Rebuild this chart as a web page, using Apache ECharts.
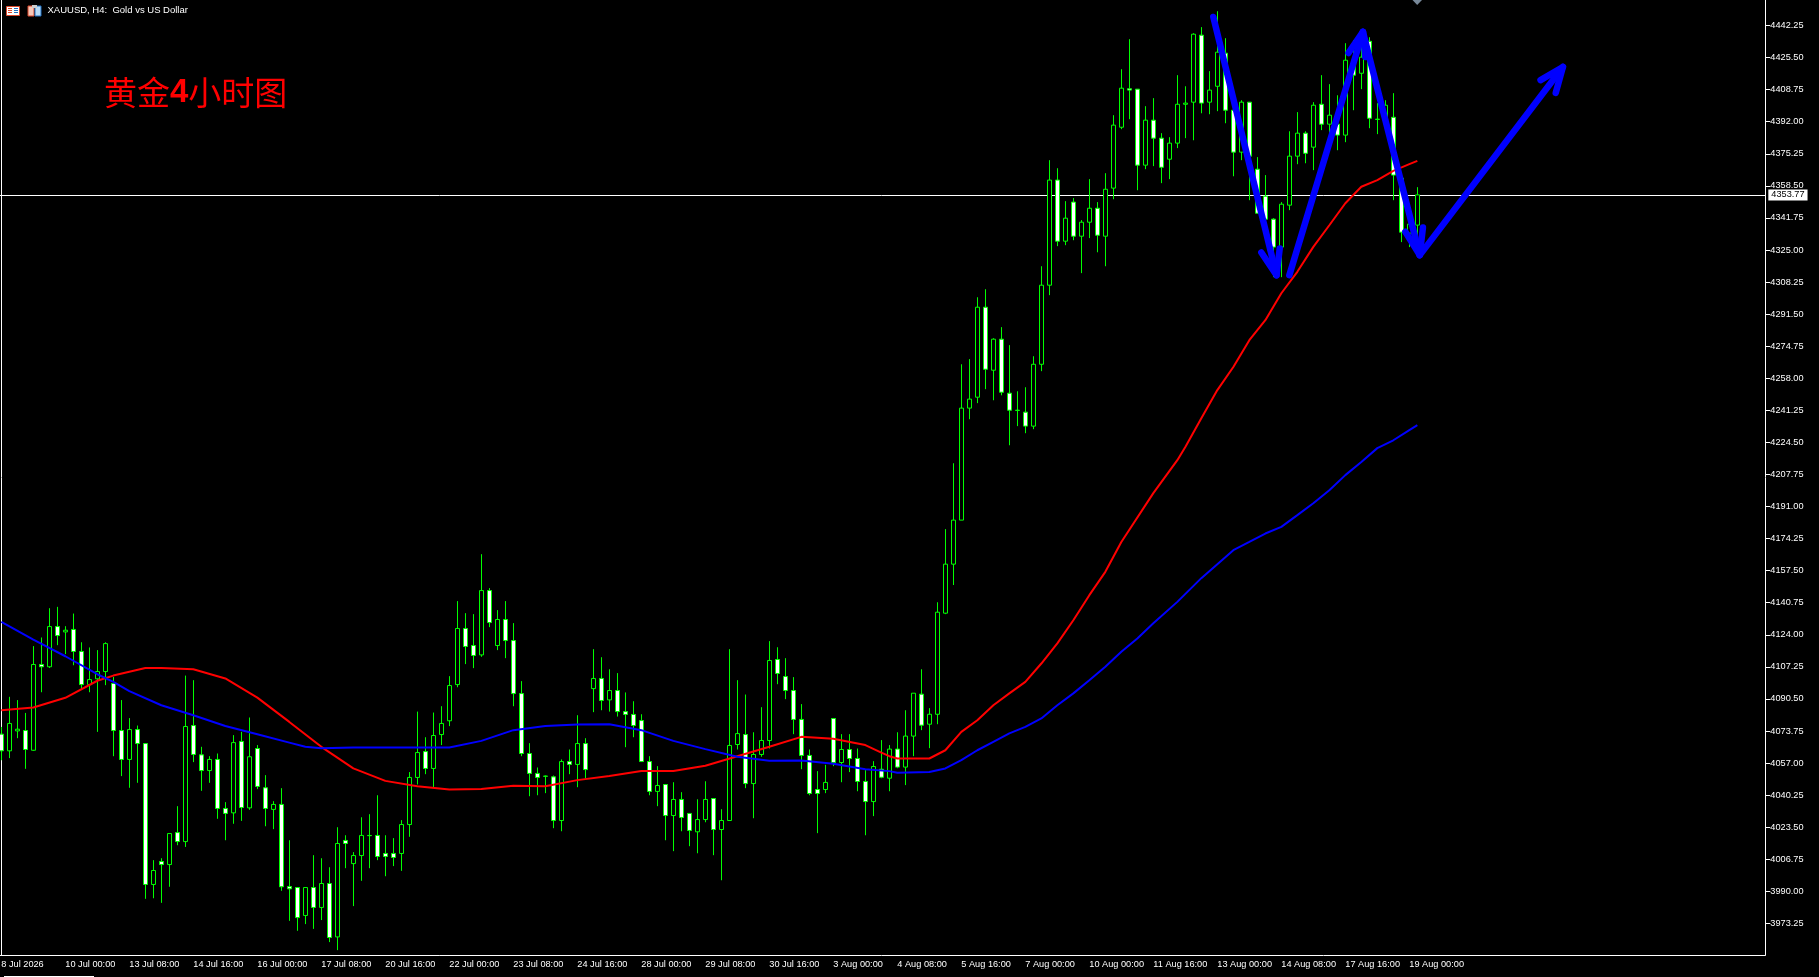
<!DOCTYPE html>
<html><head><meta charset="utf-8">
<style>html,body{margin:0;padding:0;background:#000;overflow:hidden;width:1819px;height:977px;position:relative}#c{position:absolute;left:-3px;top:0;width:1822px;height:977px}</style>
<script src="https://cdn.jsdelivr.net/npm/echarts@6/dist/echarts.min.js"></script>
</head><body><div id="c"></div>
<script>
const tickLabels = ['8 Jul 2026','10 Jul 00:00','13 Jul 08:00','14 Jul 16:00','16 Jul 00:00','17 Jul 08:00','20 Jul 16:00','22 Jul 00:00','23 Jul 08:00','24 Jul 16:00','28 Jul 00:00','29 Jul 08:00','30 Jul 16:00','3 Aug 00:00','4 Aug 08:00','5 Aug 16:00','7 Aug 00:00','10 Aug 00:00','11 Aug 16:00','13 Aug 00:00','14 Aug 08:00','17 Aug 16:00','19 Aug 00:00'];
const priceTicks = [3973.25,3990,4006.75,4023.5,4040.25,4057,4073.75,4090.5,4107.25,4124,4140.75,4157.5,4174.25,4191,4207.75,4224.5,4241.25,4258,4274.75,4291.5,4308.25,4325,4341.75,4358.5,4375.25,4392,4408.75,4425.5,4442.25];
const lastPrice = 4353.77;
const opens = [4072.1,4063.4,4073.8,4074.0,4063.7,4108.5,4107.3,4128.3,4125.5,4126.8,
4115.3,4098.0,4101.0,4104.8,4098.6,4074.0,4058.9,4074.5,4067.2,3993.6,
4005.6,4004.0,4020.7,4016.0,4076.6,4061.3,4053.1,4058.9,4033.3,4031.0,
4068.3,4033.6,4064.6,4044.1,4032.8,4035.4,3992.5,3992.0,3977.4,3992.0,
3981.6,3994.1,3966.2,4016.6,4004.5,4008.7,4019.2,4019.2,4009.8,4009.8,
4009.8,4024.9,4049.5,4063.0,4054.2,4071.9,4079.1,4098.0,4127.3,4118.4,
4113.5,4147.1,4118.4,4132.0,4121.0,4093.3,4062.0,4051.6,4050.2,4049.8,
4027.0,4057.8,4056.3,4067.2,4095.9,4101.2,4090.0,4094.9,4083.9,4082.4,
4079.2,4057.8,4042.2,4045.8,4029.6,4038.0,4030.7,4021.1,4027.5,4038.5,
4022.3,4027.0,4066.7,4071.9,4046.3,4061.5,4068.8,4111.1,4102.2,4094.9,
4079.8,4061.0,4043.2,4043.2,4080.3,4057.3,4064.1,4059.4,4047.4,4036.9,
4053.8,4049.1,4064.3,4054.9,4071.1,4093.0,4077.3,4082.5,4135.3,4160.9,
4183.9,4242.4,4248.1,4295.1,4262.2,4278.4,4250.2,4241.3,4240.3,4233.0,
4265.3,4306.6,4361.5,4329.6,4350.0,4332.2,4339.5,4346.8,4332.2,4357.3,
4389.1,4409.2,4409.0,4369.3,4392.8,4383.4,4372.4,4380.8,4401.1,4402.2,
4437.2,4402.2,4410.5,4427.8,4398.0,4376.1,4402.2,4367.2,4353.1,4341.1,
4326.5,4348.4,4374.0,4386.0,4378.7,4401.1,4390.7,4390.7,4385.0,4424.1,
4417.3,4434.0,4393.3,4393.3,4394.3,4362.5,4333.8,4338.0];
const closes = [4063.4,4077.7,4074.7,4064.1,4108.5,4107.3,4128.3,4123.6,4126.4,4115.3,
4098.0,4100.6,4104.8,4119.4,4074.0,4058.9,4074.5,4067.2,3993.6,4000.9,
4004.0,4020.2,4016.0,4076.1,4061.5,4053.1,4058.9,4033.3,4030.7,4067.7,
4033.8,4060.3,4044.8,4033.3,4035.4,3992.4,3991.3,3976.3,3992.0,3981.6,
3994.1,3965.9,4015.0,4015.0,4008.7,4019.2,4019.1,4008.2,4008.2,4007.7,
4024.9,4049.5,4062.5,4054.2,4071.4,4077.7,4097.5,4127.3,4117.9,4113.2,
4147.1,4130.4,4132.0,4121.0,4093.3,4062.0,4051.6,4049.5,4050.1,4027.0,
4057.8,4056.3,4067.2,4053.6,4101.2,4089.7,4094.9,4083.9,4082.4,4076.6,
4057.8,4042.2,4045.3,4029.6,4038.0,4028.6,4021.8,4027.5,4038.0,4022.3,
4027.0,4066.2,4072.4,4046.3,4061.5,4068.8,4110.6,4103.8,4094.9,4079.8,
4061.0,4041.1,4041.1,4046.9,4057.3,4064.1,4059.4,4047.4,4036.9,4055.2,
4049.6,4064.3,4054.9,4071.1,4093.5,4076.8,4082.5,4135.8,4160.9,4183.9,
4242.4,4247.1,4295.1,4262.7,4278.4,4250.7,4241.3,4241.2,4233.0,4265.3,
4306.6,4361.5,4329.6,4341.6,4332.2,4339.5,4346.8,4332.7,4356.7,4390.2,
4409.5,4408.5,4369.3,4392.8,4383.4,4368.2,4380.8,4401.1,4401.7,4437.7,
4401.7,4408.5,4428.3,4398.0,4376.1,4402.2,4374.0,4344.2,4341.1,4326.5,
4348.9,4374.0,4386.0,4375.5,4400.6,4390.7,4395.4,4385.0,4424.1,4416.3,
4425.7,4393.8,4393.2,4400.6,4364.1,4334.3,4338.5,4353.77];
const highs = [4075.9,4091.6,4089.9,4083.2,4118.1,4122.6,4137.9,4138.6,4128.5,4135.1,
4120.1,4117.4,4116.0,4120.1,4102.0,4089.9,4080.5,4076.6,4067.2,4006.3,
4007.3,4020.2,4034.5,4102.7,4100.3,4065.5,4060.6,4062.0,4036.6,4071.6,
4073.3,4080.8,4066.4,4050.7,4037.1,4043.9,4016.7,3992.0,3992.0,4008.9,
4007.3,4002.6,4023.5,4019.3,4010.5,4028.7,4030.3,4040.2,4019.3,4017.8,
4027.2,4052.3,4083.9,4070.5,4083.4,4086.7,4102.4,4141.6,4135.3,4134.8,
4166.1,4148.4,4136.9,4141.6,4130.1,4099.8,4067.4,4054.7,4050.5,4050.5,
4058.9,4064.1,4082.0,4070.0,4116.5,4112.3,4106.0,4104.0,4093.9,4089.3,
4082.5,4060.6,4055.4,4045.8,4047.0,4041.8,4030.7,4038.1,4047.5,4038.5,
4032.9,4116.5,4100.3,4092.8,4073.1,4086.2,4120.7,4117.5,4111.8,4101.9,
4087.8,4064.1,4052.8,4056.1,4080.3,4072.1,4072.1,4064.6,4053.3,4058.0,
4069.0,4066.4,4073.1,4084.6,4093.5,4106.0,4085.7,4141.0,4179.2,4213.6,
4265.3,4268.0,4300.3,4304.5,4278.9,4284.7,4275.3,4251.2,4253.3,4269.5,
4316.5,4371.9,4367.7,4350.5,4352.1,4340.6,4362.0,4350.0,4365.1,4395.4,
4419.4,4435.1,4409.0,4400.1,4404.3,4386.0,4383.9,4416.3,4410.5,4438.2,
4441.4,4418.4,4449.7,4435.6,4403.2,4403.2,4402.2,4373.5,4364.1,4341.6,
4350.0,4387.0,4397.0,4387.0,4402.2,4416.3,4411.6,4405.8,4433.0,4434.6,
4436.1,4436.1,4401.7,4403.2,4406.9,4364.1,4338.5,4357.8];
const lows = [4058.5,4059.6,4070.0,4054.0,4063.4,4094.0,4106.7,4118.6,4113.9,4108.1,
4095.4,4094.0,4073.3,4097.7,4060.6,4050.2,4044.1,4046.7,3986.1,3986.4,
3984.0,3992.4,4014.1,4013.2,4057.5,4042.5,4046.7,4027.9,4016.7,4025.3,
4026.8,4032.6,4043.4,4024.0,4022.5,3990.3,3974.6,3969.4,3972.9,3970.4,
3975.0,3963.5,3959.3,4002.1,3982.3,3995.5,4002.1,4006.3,3997.9,4003.2,
4000.7,4018.5,4045.8,4051.2,4044.2,4066.4,4076.3,4096.6,4108.7,4106.6,
4112.5,4128.0,4116.0,4111.8,4086.7,4060.6,4039.7,4040.2,4041.3,4023.0,
4021.4,4051.2,4044.4,4048.9,4083.6,4084.6,4083.9,4081.3,4065.3,4070.5,
4057.8,4040.2,4034.5,4016.7,4011.0,4021.4,4013.6,4009.9,4026.1,4008.9,
3995.8,4027.0,4064.1,4043.9,4028.2,4060.3,4064.6,4098.2,4090.4,4072.1,
4053.8,4040.2,4020.4,4041.3,4055.4,4047.0,4052.3,4042.3,4019.3,4029.3,
4049.1,4042.3,4054.3,4045.5,4060.6,4074.2,4064.8,4077.3,4134.8,4150.0,
4183.9,4236.6,4245.0,4252.3,4246.5,4249.1,4223.0,4233.0,4229.3,4231.4,
4261.7,4301.4,4327.0,4327.5,4330.1,4312.9,4331.2,4323.8,4316.5,4351.5,
4388.1,4393.3,4356.2,4367.2,4368.8,4359.9,4362.0,4378.2,4383.4,4382.3,
4396.4,4395.9,4397.5,4391.2,4363.5,4371.9,4351.0,4344.2,4340.6,4310.8,
4310.8,4345.8,4369.8,4370.3,4366.7,4387.6,4377.1,4377.1,4381.3,4398.0,
4409.0,4388.6,4385.5,4390.2,4351.0,4329.1,4326.5,4332.7];
const redBars = [0,4,8,12,14,16,18,20,24,28,32,36,40,44,48,52,56,60,64,68,72,76,80,84,88,92,96,100,104,108,110,111,112,116,118,120,122,124,126,128,130,132,134,136,138,140,144,147,148,150,152,154,156,158,160,162,164,166,168,170,172,174,176,177];
const redValues = [4084.6,4086.0,4091.1,4100.0,4102.7,4104.7,4106.7,4106.7,4106.0,4101.2,4091.2,4078.5,4065.5,4054.2,4047.7,4044.9,4043.2,4043.4,4045.1,4044.9,4048.1,4050.3,4052.9,4052.9,4055.6,4060.6,4065.5,4070.7,4069.7,4066.4,4062.5,4060.6,4059.4,4059.4,4063.7,4073.3,4079.4,4087.2,4093.4,4099.4,4109.0,4119.5,4131.6,4144.7,4156.9,4172.5,4198.0,4215.2,4222.1,4237.1,4251.8,4263.9,4277.9,4288.3,4302.4,4313.6,4326.6,4337.9,4349.4,4358.0,4361.5,4366.3,4369.8,4371.5];
const blueBars = [0,4,8,12,14,16,20,24,28,32,36,38,40,44,48,52,56,60,64,68,72,76,80,84,88,92,96,100,104,108,111,112,116,118,120,122,124,126,128,130,132,134,136,138,140,142,144,147,150,154,156,158,160,162,164,166,168,170,172,174,176,177];
const blueValues = [4130.8,4121.5,4112.8,4103.4,4099.4,4094.6,4087.2,4082.0,4076.4,4072.1,4067.7,4065.5,4064.8,4065.1,4065.1,4065.1,4065.1,4068.6,4074.2,4076.4,4077.1,4077.3,4074.2,4068.6,4064.3,4060.3,4058.2,4058.3,4056.6,4053.8,4052.8,4051.9,4052.3,4054.2,4058.5,4063.7,4068.1,4072.5,4075.9,4080.3,4087.2,4093.4,4100.3,4107.3,4115.1,4122.1,4130.0,4141.2,4153.6,4168.2,4172.5,4176.9,4180.4,4186.5,4192.7,4199.5,4207.4,4214.3,4221.5,4225.6,4230.9,4233.5];
// hand-drawn arrows, in (bar number, price): shaft start, tip, then the two wings of the head
const arrowStart = [[151.5,4446.7],[161.0,4311.8],[170.2,4438.9],[177.3,4322.3]];
const arrowTip   = [[159.4,4311.8],[170.2,4438.9],[177.3,4322.3],[195.2,4420.6]];
const arrowWingA = [[157.5,4323.7],[168.4,4427.9],[175.5,4334.5],[192.4,4413.7]];
const arrowWingB = [[159.8,4325.8],[170.5,4425.8],[177.7,4336.7],[194.3,4407.0]];

const slotCount = 221;
const categories = Array.from({length: slotCount}, (_, i) => String(i));
const isLabelled = i => i % 8 === 0 && i / 8 < tickLabels.length;

const uiFont = '"Liberation Sans", Arial, sans-serif';
const candles = opens.map((o, i) => [o, closes[i], lows[i], highs[i]]);
const zip = (xs, ys) => xs.map((x, i) => [x, ys[i]]);

const arrowSeries = [];
arrowStart.forEach((s, k) => {
  [[s, arrowTip[k]], [arrowWingA[k], arrowTip[k], arrowWingB[k]]].forEach(path => {
    arrowSeries.push({type:'line', xAxisIndex:1, yAxisIndex:0, data:path, symbol:'none', silent:true, z:9,
      lineStyle:{color:'#0000ff', width:6.5, cap:'round', join:'round'}});
  });
});

const chart = echarts.init(document.getElementById('c'), null, {renderer:'canvas', width:1822, height:977});
chart.setOption({
  animation:false,
  backgroundColor:'#000000',
  title:{
    left:107, top:76, padding:0,
    text:'{a|黄金}{b|4}{a|小时图}',
    textStyle:{rich:{
      a:{fontFamily:'"Noto Sans CJK SC"', fontSize:33, color:'#ff0000', fontWeight:'normal'},
      b:{fontFamily:'"Liberation Sans"', fontSize:33, color:'#ff0000', fontWeight:'bold'}
    }}
  },
  grid:{left:0.33, top:0, width:1768, height:955, containLabel:false},
  xAxis:[{
    type:'category', data:categories, boundaryGap:true,
    axisLine:{lineStyle:{color:'#ffffff', width:1}},
    axisTick:{alignWithLabel:true, length:4, interval:i=>isLabelled(i), lineStyle:{color:'#ffffff'}},
    axisLabel:{interval:i=>isLabelled(i), formatter:(v,i)=>tickLabels[i/8]||'', color:'#ffffff', fontFamily:uiFont, fontSize:9.2, align:'left', margin:5, showMinLabel:true, hideOverlap:false},
    splitLine:{show:false}
  },{
    type:'value', min:-0.5, max:220.5, show:false, splitLine:{show:false}
  }],
  yAxis:[{
    type:'value', position:'right', min:3956.76, max:4455.56, scale:true,
    axisLine:{show:true, onZero:false, lineStyle:{color:'#ffffff', width:1}},
    axisTick:{show:true, length:5, customValues:priceTicks, lineStyle:{color:'#ffffff'}},
    axisLabel:{customValues:priceTicks, formatter:v=>v.toFixed(2), color:'#ffffff', fontFamily:uiFont, fontSize:9.2, margin:5},
    splitLine:{show:false}
  }],
  graphic:[{type:'group', x:3, y:0, silent:true, children:[
    {type:'line', shape:{x1:1.5,y1:0,x2:1.5,y2:955}, style:{stroke:'#ffffff', lineWidth:1}},
    {type:'rect', shape:{x:4,y:976,width:90,height:1}, style:{fill:'#ffffff'}},
    {type:'polygon', shape:{points:[[1412.5,0],[1422,0],[1417.2,5]]}, style:{fill:'#778899'}},
    {type:'rect', shape:{x:6.5,y:6.5,width:13,height:9}, style:{fill:'#ffffff', stroke:'#d9472b', lineWidth:1}},
    {type:'rect', shape:{x:8,y:8,width:4,height:1}, style:{fill:'#d9472b'}},
    {type:'rect', shape:{x:8,y:10,width:4,height:1}, style:{fill:'#d9472b'}},
    {type:'rect', shape:{x:8,y:12,width:4,height:1}, style:{fill:'#d9472b'}},
    {type:'rect', shape:{x:14,y:8,width:4,height:1}, style:{fill:'#1f6fc0'}},
    {type:'rect', shape:{x:14,y:10,width:4,height:1}, style:{fill:'#1f6fc0'}},
    {type:'rect', shape:{x:14,y:12,width:4,height:1}, style:{fill:'#1f6fc0'}},
    {type:'rect', shape:{x:28,y:6,width:6,height:10}, style:{fill:'#f7c8b8', stroke:'#d9472b', lineWidth:1}},
    {type:'rect', shape:{x:35,y:6,width:6,height:10}, style:{fill:'#b8dcf7', stroke:'#1f6fc0', lineWidth:1}},
    {type:'rect', shape:{x:32,y:5,width:5,height:3}, style:{fill:'#cccccc'}},
    {type:'text', style:{x:47.5, y:5.5, text:'XAUUSD, H4:  Gold vs US Dollar', fill:'#ffffff', font:'9.5px '+uiFont}}
  ]}],
  series:[
    {type:'candlestick', name:'XAUUSD', data:candles, barWidth:4, silent:true, z:2, clip:false,
      itemStyle:{color:'#000000', color0:'#ffffff', borderColor:'#00ff00', borderColor0:'#00ff00', borderWidth:1},
      markLine:{silent:true, symbol:'none', animation:false, z:1,
        lineStyle:{color:'#ffffff', width:1, type:'solid'},
        label:{position:'end', distance:3, formatter:()=>lastPrice.toFixed(2), backgroundColor:'#ffffff', color:'#000000', fontFamily:uiFont, fontSize:9.2, padding:[1,3]},
        data:[{yAxis:lastPrice}]}
    },
    {type:'line', name:'MA red', xAxisIndex:1, data:zip(redBars, redValues), symbol:'none', silent:true, z:4, lineStyle:{color:'#ff0000', width:2}},
    {type:'line', name:'MA blue', xAxisIndex:1, data:zip(blueBars, blueValues), symbol:'none', silent:true, z:5, lineStyle:{color:'#0000ff', width:2}},
    ...arrowSeries
  ]
});
</script></body></html>
